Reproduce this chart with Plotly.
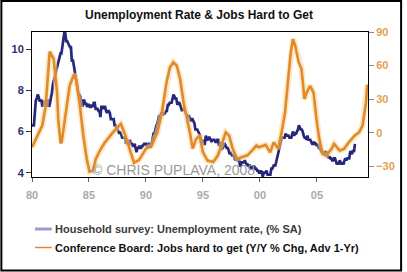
import plotly.graph_objects as go

# ---------------- data ----------------
# Household survey unemployment rate (% SA), monthly Jan-1980 .. May-2008
unemp = [
    6.3, 6.3, 6.3, 6.9, 7.5, 7.6, 7.8, 7.7, 7.5, 7.5, 7.5, 7.2,   # 1980
    7.5, 7.4, 7.4, 7.2, 7.5, 7.5, 7.2, 7.4, 7.6, 7.9, 8.3, 8.5,   # 1981
    8.6, 8.9, 9.0, 9.3, 9.4, 9.6, 9.8, 9.8, 10.1, 10.4, 10.8, 10.8,  # 1982
    10.4, 10.4, 10.3, 10.2, 10.1, 10.1, 9.4, 9.5, 9.2, 8.8, 8.5, 8.3,  # 1983
    8.0, 7.8, 7.8, 7.7, 7.4, 7.2, 7.5, 7.5, 7.3, 7.4, 7.2, 7.3,   # 1984
    7.3, 7.2, 7.2, 7.3, 7.2, 7.4, 7.4, 7.1, 7.1, 7.1, 7.0, 7.0,   # 1985
    6.7, 7.2, 7.2, 7.1, 7.2, 7.2, 7.0, 6.9, 7.0, 7.0, 6.9, 6.6,   # 1986
    6.6, 6.6, 6.6, 6.3, 6.3, 6.2, 6.1, 6.0, 5.9, 6.0, 5.8, 5.7,   # 1987
    5.7, 5.7, 5.7, 5.4, 5.6, 5.4, 5.4, 5.6, 5.4, 5.4, 5.3, 5.3,   # 1988
    5.4, 5.2, 5.0, 5.2, 5.2, 5.3, 5.2, 5.2, 5.3, 5.3, 5.4, 5.4,   # 1989
    5.4, 5.3, 5.2, 5.4, 5.4, 5.2, 5.5, 5.7, 5.9, 5.9, 6.2, 6.3,   # 1990
    6.4, 6.6, 6.8, 6.7, 6.9, 6.9, 6.8, 6.9, 6.9, 7.0, 7.0, 7.3,   # 1991
    7.3, 7.4, 7.4, 7.4, 7.6, 7.8, 7.7, 7.6, 7.6, 7.3, 7.4, 7.4,   # 1992
    7.3, 7.1, 7.0, 7.1, 7.1, 7.0, 6.9, 6.8, 6.7, 6.8, 6.6, 6.5,   # 1993
    6.6, 6.6, 6.5, 6.4, 6.1, 6.1, 6.1, 6.0, 5.9, 5.8, 5.6, 5.5,   # 1994
    5.6, 5.4, 5.4, 5.8, 5.6, 5.6, 5.7, 5.7, 5.6, 5.5, 5.6, 5.6,   # 1995
    5.6, 5.5, 5.5, 5.6, 5.6, 5.3, 5.5, 5.1, 5.2, 5.2, 5.4, 5.4,   # 1996
    5.3, 5.2, 5.2, 5.1, 4.9, 5.0, 4.9, 4.8, 4.9, 4.7, 4.6, 4.7,   # 1997
    4.6, 4.6, 4.7, 4.3, 4.4, 4.5, 4.5, 4.5, 4.6, 4.5, 4.4, 4.4,   # 1998
    4.3, 4.4, 4.2, 4.3, 4.2, 4.3, 4.3, 4.2, 4.2, 4.1, 4.1, 4.0,   # 1999
    4.0, 4.1, 4.0, 3.8, 4.0, 4.0, 4.0, 4.1, 3.9, 3.9, 3.9, 3.9,   # 2000
    4.2, 4.2, 4.3, 4.4, 4.3, 4.5, 4.6, 4.9, 5.0, 5.3, 5.5, 5.7,   # 2001
    5.7, 5.7, 5.7, 5.9, 5.8, 5.8, 5.8, 5.7, 5.7, 5.7, 5.9, 6.0,   # 2002
    5.8, 5.9, 5.9, 6.0, 6.1, 6.3, 6.2, 6.1, 6.1, 6.0, 5.8, 5.7,   # 2003
    5.7, 5.6, 5.8, 5.6, 5.6, 5.6, 5.5, 5.4, 5.4, 5.5, 5.4, 5.4,   # 2004
    5.3, 5.4, 5.2, 5.2, 5.1, 5.0, 5.0, 4.9, 5.0, 5.0, 5.0, 4.9,   # 2005
    4.7, 4.8, 4.7, 4.7, 4.6, 4.6, 4.7, 4.7, 4.5, 4.4, 4.5, 4.4,   # 2006
    4.6, 4.5, 4.4, 4.5, 4.4, 4.6, 4.7, 4.6, 4.7, 4.7, 4.7, 5.0,   # 2007
    5.0, 4.9, 5.1, 5.0, 5.4,                                      # 2008
]
unemp_dates = [1980 + i / 12 for i in range(len(unemp))]

# Conference Board: Jobs hard to get (Y/Y % chg, advanced 1 year)
jobs_dates = [
    1980.0, 1980.45, 1980.9, 1981.2, 1981.4, 1981.55, 1981.9, 1982.2, 1982.3,
    1982.5, 1982.6, 1982.9, 1983.3, 1983.7, 1983.9, 1984.2, 1984.5, 1984.8,
    1985.05, 1985.35, 1985.6, 1986.0, 1986.4, 1987.1, 1987.8, 1988.2, 1988.7,
    1988.95, 1989.4, 1989.8, 1990.0, 1990.5, 1991.0, 1991.4, 1991.8, 1992.1,
    1992.4, 1992.7, 1993.0, 1993.3, 1993.55, 1993.85, 1994.1, 1994.4, 1994.7,
    1995.0, 1995.4, 1995.9, 1996.3, 1996.7, 1997.0, 1997.3, 1997.6, 1998.0,
    1998.5, 1998.9, 1999.3, 1999.7, 1999.9, 2000.5, 2000.9, 2001.2, 2001.6,
    2001.9, 2002.2, 2002.5, 2002.7, 2002.9, 2003.1, 2003.4, 2003.65, 2003.9,
    2004.1, 2004.4, 2004.7, 2004.96, 2005.2, 2005.5, 2005.8, 2006.3, 2006.5,
    2007.0, 2007.4, 2007.8, 2008.3, 2008.7, 2009.0, 2009.3, 2009.42,
]
jobs_chg = [
    -12.8, -2.4, 6.5, 24, 57, 72.5, 66, 36, 12.5,
    -8.4, -8.4, 12.5, 42, 52.5, 46.6, 24.3, -2.4, -23,
    -34.5, -33.6, -23, -15, -8.4, 0.5, 8, -2.4, -20,
    -26.7, -24, -17.3, -14, -11.3, 0.5, 18.3, 45, 58.4,
    63, 60, 48, 27, 15.4, 0.5, -14, -5.3, -2.4,
    -17.3, -24.7, -26, -20.2, -8.4, 0.5, -2.4, -14, -23,
    -21.7, -20, -15.8, -11.3, -12.8, -10.7, -17.3, -8.4, -14,
    0.5, 18.3, 48, 71.8, 83.7, 77.7, 62.9, 57, 30.3,
    36, 42, 36, 12.5, -5.3, -18.7, -20.2, -14, -9.8,
    -15.8, -14, -8.4, -2.4, 0.5, 6.5, 27, 43,
]

x_tickvals = [1980, 1985, 1990, 1995, 2000, 2005]
x_ticktext = ["80", "85", "90", "95", "00", "05"]
left_ticks = [4, 6, 8, 10]
right_ticks = [-30, 0, 30, 60, 90]

title_text = "Unemployment Rate &amp; Jobs Hard to Get"
legend_texts = [
    "Household survey: Unemployment rate, (% SA)",
    "Conference Board: Jobs hard to get (Y/Y % Chg, Adv 1-Yr)",
]
watermark = "© CHRIS PUPLAVA, 2008"

# ---------------- styling ----------------
W, H = 407, 272
ML, MR, MT, MB = 32, 35, 32, 95
PW, PH = W - ML - MR, H - MT - MB
BLUE = "#28287a"
ORANGE = "#e08a2c"
FONT = "Liberation Sans, Arial, sans-serif"


def px_x(p):
    return (p - ML) / PW


def px_y(p):
    return (H - MB - p) / PH


fig = go.Figure()
fig.add_trace(go.Scatter(
    x=unemp_dates, y=unemp, mode="lines",
    line=dict(color=BLUE, width=2.7), yaxis="y", showlegend=False,
))
fig.add_trace(go.Scatter(
    x=jobs_dates, y=jobs_chg, mode="lines",
    line=dict(color="rgba(252,214,150,0.55)", width=6), yaxis="y2",
    showlegend=False, hoverinfo="skip",
))
fig.add_trace(go.Scatter(
    x=jobs_dates, y=jobs_chg, mode="lines",
    line=dict(color=ORANGE, width=2.6), yaxis="y2", showlegend=False,
))

shapes = [
    # outer frame
    dict(type="rect", xref="paper", yref="paper",
         x0=px_x(1), x1=px_x(W - 1.5), y0=px_y(H - 1.5), y1=px_y(1),
         line=dict(color="black", width=2), fillcolor="rgba(0,0,0,0)", layer="below"),
    # legend symbols
    dict(type="line", xref="paper", yref="paper",
         x0=px_x(35), x1=px_x(52), y0=px_y(229), y1=px_y(229),
         line=dict(color="#9b9bcc", width=3)),
    dict(type="line", xref="paper", yref="paper",
         x0=px_x(35), x1=px_x(52), y0=px_y(247.5), y1=px_y(247.5),
         line=dict(color=ORANGE, width=1.5)),
]

annotations = [
    dict(text="<b>" + title_text + "</b>", xref="paper", yref="paper",
         x=px_x(201), y=px_y(15), xanchor="center", yanchor="middle",
         showarrow=False, font=dict(family=FONT, size=12, color="#111111")),
    dict(text="<b>" + legend_texts[0] + "</b>", xref="paper", yref="paper",
         x=px_x(53), y=px_y(229), xanchor="left", yanchor="middle",
         showarrow=False, font=dict(family=FONT, size=11, color="#3a3a3a")),
    dict(text="<b>" + legend_texts[1] + "</b>", xref="paper", yref="paper",
         x=px_x(53), y=px_y(248), xanchor="left", yanchor="middle",
         showarrow=False, font=dict(family=FONT, size=11, color="#111111")),
    dict(text=watermark, xref="paper", yref="paper",
         x=px_x(175), y=px_y(170), xanchor="center", yanchor="middle",
         showarrow=False, font=dict(family=FONT, size=14, color="#9a9a9a")),
]

fig.update_layout(
    width=W, height=H,
    margin=dict(l=ML, r=MR, t=MT, b=MB, pad=0),
    paper_bgcolor="white", plot_bgcolor="white",
    showlegend=False,
    xaxis=dict(
        range=[1980.0, 2009.48], tickvals=x_tickvals, ticktext=x_ticktext,
        showgrid=False, zeroline=False,
        showline=True, linecolor="black", linewidth=1, mirror=True,
        ticks="outside", ticklen=4, tickcolor="#666666",
        ticklabelstandoff=4,
        tickfont=dict(family=FONT, size=11, color="#aaaaaa", weight="bold"),
    ),
    yaxis=dict(
        range=[3.79, 10.84], tickvals=left_ticks,
        showgrid=False, zeroline=False,
        showline=True, linecolor="black", linewidth=1,
        ticks="outside", ticklen=5, tickcolor="#333333",
        tickfont=dict(family=FONT, size=11, color="#2e2e6e", weight="bold"),
    ),
    yaxis2=dict(
        range=[-39.3, 90], tickvals=right_ticks, overlaying="y", side="right",
        showgrid=False, zeroline=False,
        showline=True, linecolor="black", linewidth=1,
        ticks="outside", ticklen=5, tickcolor="#888888",
        tickfont=dict(family=FONT, size=11, color="#e3a050", weight="bold"),
    ),
    shapes=shapes,
    annotations=annotations,
)

fig.write_html("out.html")
